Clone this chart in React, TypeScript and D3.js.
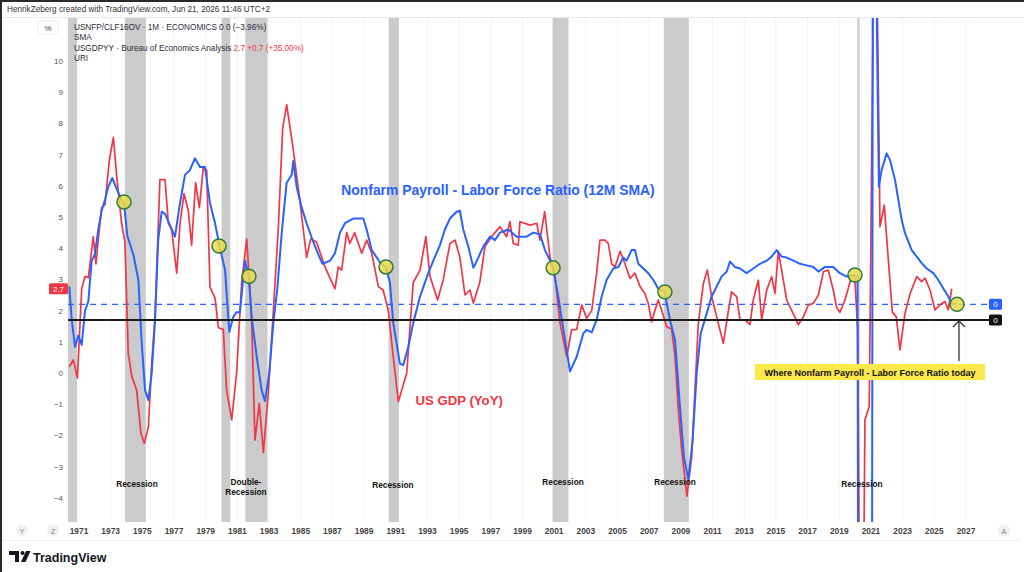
import React, { useEffect, useRef } from "react";
import * as d3 from "d3";

// US GDP YoY (%) as [year, value]
const gdpYoY: [number, number][] = [
  [1970.39, 0.2], [1970.64, 0.42], [1970.9, -0.16], [1971.17, 2.7], [1971.38, 3.1], [1971.59, 3.05],
  [1971.9, 4.37], [1972.07, 3.5], [1972.28, 4.58], [1972.43, 5.3], [1972.64, 5.4], [1972.91, 6.8],
  [1973.17, 7.55], [1973.38, 6.3], [1973.69, 4.8], [1973.9, 4.2], [1974.11, 0.63], [1974.33, -0.1],
  [1974.64, -0.55], [1974.91, -1.93], [1975.12, -2.25], [1975.38, -1.73], [1975.59, 0.3], [1975.8, 1.8],
  [1976.11, 6.2], [1976.43, 6.2], [1976.64, 4.8], [1976.85, 4.6], [1977.17, 3.2], [1977.38, 4.8],
  [1977.63, 5.75], [1977.9, 5.2], [1978.11, 4.1], [1978.36, 6.1], [1978.6, 5.3], [1978.85, 6.6],
  [1979.06, 6.5], [1979.27, 2.75], [1979.59, 2.4], [1979.8, 1.45], [1980.11, 1.4], [1980.32, -0.55],
  [1980.64, -1.5], [1980.95, 0.0], [1981.27, 2.9], [1981.59, 4.3], [1981.9, 1.7], [1982.11, -2.15],
  [1982.38, -0.97], [1982.64, -2.55], [1982.95, -0.65], [1983.27, 2.0], [1983.58, 4.6], [1983.86, 7.85],
  [1984.11, 8.6], [1984.53, 7.15], [1984.95, 5.5], [1985.37, 3.7], [1985.63, 4.3], [1986.0, 4.2],
  [1986.53, 3.4], [1986.85, 3.04], [1987.16, 2.7], [1987.37, 3.4], [1987.58, 3.3], [1987.9, 4.5],
  [1988.1, 4.15], [1988.4, 4.5], [1988.85, 3.84], [1989.16, 4.26], [1989.48, 3.84], [1989.9, 2.77],
  [1990.2, 2.66], [1990.53, 2.0], [1990.84, 0.52], [1991.16, -0.92], [1991.69, 0.0], [1992.1, 2.9],
  [1992.53, 3.3], [1992.9, 4.37], [1993.16, 3.1], [1993.64, 2.34], [1994.0, 3.0], [1994.42, 4.15],
  [1994.74, 4.26], [1995.05, 3.7], [1995.37, 2.5], [1995.68, 2.66], [1995.9, 2.24], [1996.3, 2.9],
  [1996.63, 4.05], [1997.05, 4.37], [1997.58, 4.69], [1998.0, 4.37], [1998.2, 4.85], [1998.42, 4.15],
  [1998.73, 4.1], [1998.84, 4.85], [1999.47, 4.74], [1999.9, 4.8], [2000.1, 4.26], [2000.4, 5.17],
  [2000.74, 3.7], [2001.05, 3.1], [2001.37, 1.6], [2001.79, 0.52], [2002.1, 1.38], [2002.42, 1.4],
  [2002.74, 2.18], [2003.05, 1.75], [2003.37, 2.0], [2003.68, 3.2], [2003.89, 4.26], [2004.2, 4.26],
  [2004.42, 4.15], [2004.63, 3.5], [2004.84, 3.4], [2005.16, 3.9], [2005.47, 3.5], [2005.79, 3.03],
  [2006.1, 3.2], [2006.42, 2.77], [2006.73, 2.55], [2006.94, 2.23], [2007.15, 1.64], [2007.36, 2.0],
  [2007.57, 2.34], [2007.79, 2.0], [2008.1, 1.48], [2008.42, 1.4], [2008.63, 0.52], [2008.84, -1.19],
  [2009.05, -2.47], [2009.38, -3.95], [2009.68, -2.7], [2009.89, -0.55], [2010.1, 1.6], [2010.42, 2.87],
  [2010.67, 3.3], [2010.94, 2.45], [2011.26, 1.8], [2011.68, 0.95], [2012.0, 2.0], [2012.2, 2.6],
  [2012.52, 2.45], [2012.73, 1.7], [2013.05, 1.7], [2013.36, 1.55], [2013.57, 2.34], [2013.89, 2.98],
  [2014.1, 1.7], [2014.42, 2.66], [2014.73, 3.09], [2014.94, 2.55], [2015.15, 3.9], [2015.36, 3.3],
  [2015.68, 2.34], [2016.0, 2.0], [2016.42, 1.55], [2016.73, 1.8], [2017.05, 2.18], [2017.36, 2.23],
  [2017.68, 2.5], [2018.0, 3.25], [2018.3, 3.3], [2018.62, 2.66], [2018.83, 2.1], [2019.04, 1.95],
  [2019.36, 2.34], [2019.78, 3.1], [2019.97, 3.15], [2020.16, 1.38], [2020.3, -9], [2020.5, -9],
  [2020.62, -1.5], [2020.89, -1.08], [2021.15, 12], [2021.4, 12], [2021.57, 4.69], [2021.84, 5.38],
  [2022.1, 3.6], [2022.35, 1.95], [2022.6, 1.8], [2022.83, 0.74], [2023.15, 1.91], [2023.47, 2.55],
  [2023.89, 3.09], [2024.2, 2.93], [2024.41, 3.04], [2024.73, 2.66], [2025.04, 2.02], [2025.36, 2.18],
  [2025.67, 2.29], [2025.88, 2.02], [2026.1, 2.7],
];

// Nonfarm payroll / labor force ratio, 12M SMA
const nfpRatioSma: [number, number][] = [
  [1970.39, 2.77], [1970.54, 1.7], [1970.75, 0.84], [1970.96, 1.2], [1971.17, 0.9], [1971.38, 2.0],
  [1971.59, 2.3], [1971.8, 3.6], [1972.0, 3.8], [1972.22, 4.6], [1972.43, 5.2], [1972.64, 5.55],
  [1972.85, 5.97], [1973.1, 6.25], [1973.38, 5.9], [1973.69, 5.55], [1973.84, 5.45], [1974.05, 4.4],
  [1974.43, 3.8], [1974.75, 2.98], [1974.96, 0.95], [1975.17, -0.55], [1975.38, -0.87], [1975.59, 0.0],
  [1975.8, 1.7], [1976.0, 4.26], [1976.22, 5.17], [1976.43, 5.1], [1976.74, 4.74], [1977.06, 4.37],
  [1977.38, 5.45], [1977.69, 6.35], [1978.0, 6.5], [1978.32, 6.88], [1978.64, 6.6], [1978.95, 6.6],
  [1979.27, 5.45], [1979.59, 4.8], [1979.88, 4.05], [1980.22, 3.3], [1980.49, 1.32], [1980.74, 1.8],
  [1980.95, 1.95], [1981.16, 1.95], [1981.48, 3.6], [1981.72, 3.1], [1981.9, 1.8], [1982.22, 0.52],
  [1982.53, -0.55], [1982.74, -0.9], [1983.01, 0.0], [1983.27, 1.6], [1983.52, 2.7], [1983.8, 4.5],
  [1984.11, 6.1], [1984.43, 6.35], [1984.53, 6.8], [1984.74, 5.97], [1985.06, 5.3], [1985.37, 4.8],
  [1985.79, 4.2], [1986.11, 3.8], [1986.37, 3.5], [1986.85, 3.6], [1987.16, 3.84], [1987.48, 4.5],
  [1987.79, 4.8], [1988.32, 4.95], [1988.95, 4.95], [1989.16, 4.6], [1989.48, 3.94], [1990.0, 3.55],
  [1990.38, 3.37], [1990.63, 2.9], [1990.84, 1.6], [1991.26, 0.3], [1991.47, 0.25], [1991.79, 0.84],
  [1992.1, 1.6], [1992.53, 2.45], [1993.05, 3.2], [1993.37, 3.6], [1993.79, 4.1], [1994.1, 4.6],
  [1994.42, 4.95], [1994.84, 5.17], [1995.05, 5.2], [1995.26, 4.6], [1995.58, 4.05], [1995.9, 3.37],
  [1996.21, 3.7], [1996.52, 4.05], [1996.95, 4.37], [1997.26, 4.26], [1997.58, 4.5], [1998.1, 4.6],
  [1998.63, 4.37], [1999.26, 4.37], [1999.68, 4.5], [2000.1, 4.45], [2000.42, 3.94], [2000.74, 3.6],
  [2000.93, 3.37], [2001.26, 2.45], [2001.58, 1.4], [2002.0, 0.05], [2002.42, 0.52], [2002.84, 1.27],
  [2003.05, 1.38], [2003.37, 1.3], [2003.68, 1.7], [2004.0, 2.45], [2004.31, 2.98], [2004.73, 3.35],
  [2005.05, 3.4], [2005.36, 3.7], [2005.57, 3.6], [2005.89, 3.94], [2006.1, 3.94], [2006.31, 3.5],
  [2006.63, 3.35], [2006.94, 3.2], [2007.26, 2.98], [2007.57, 2.7], [2007.97, 2.6], [2008.31, 1.7],
  [2008.63, 1.06], [2008.94, -1.08], [2009.19, -2.68], [2009.47, -3.42], [2009.74, -2.15], [2010.0, 0.0],
  [2010.25, 1.27], [2010.63, 1.91], [2010.94, 2.45], [2011.26, 2.77], [2011.57, 3.09], [2011.89, 3.25],
  [2012.1, 3.57], [2012.41, 3.4], [2012.73, 3.35], [2013.15, 3.2], [2013.57, 3.35], [2013.99, 3.5],
  [2014.42, 3.6], [2014.73, 3.73], [2015.05, 3.94], [2015.36, 3.73], [2015.68, 3.7], [2016.1, 3.6],
  [2016.52, 3.5], [2016.94, 3.45], [2017.36, 3.4], [2017.68, 3.25], [2018.1, 3.4], [2018.62, 3.4],
  [2019.04, 3.2], [2019.47, 3.09], [2019.88, 3.14], [2020.15, 3.1], [2020.22, -15], [2021.05, -15],
  [2021.12, 15], [2021.35, 12], [2021.5, 5.97], [2021.67, 6.5], [2021.99, 7.04], [2022.2, 6.83],
  [2022.52, 6.19], [2022.73, 5.54], [2022.94, 4.9], [2023.15, 4.48], [2023.36, 4.21], [2023.57, 3.94],
  [2023.89, 3.73], [2024.2, 3.52], [2024.52, 3.35], [2024.94, 3.2], [2025.25, 2.98], [2025.57, 2.71],
  [2025.88, 2.45], [2026.1, 2.23], [2026.35, 2.22],
];

// NBER recessions [start, end]
const recessions: [number, number][] = [
  [1969.92, 1970.88], [1973.9, 1975.22], [1980.0, 1980.55], [1981.5, 1982.9],
  [1990.55, 1991.2], [2000.9, 2001.9], [2007.92, 2009.5], [2020.12, 2020.3],
];

// year, lines, value where the label sits
const recessionLabels: { year: number; lines: string[]; level: number }[] = [
  { year: 1974.66, lines: ["Recession"], level: -3.55 },
  { year: 1981.54, lines: ["Double-", "Recession"], level: -3.5 },
  { year: 1990.82, lines: ["Recession"], level: -3.58 },
  { year: 2001.56, lines: ["Recession"], level: -3.48 },
  { year: 2008.63, lines: ["Recession"], level: -3.48 },
  { year: 2020.43, lines: ["Recession"], level: -3.55 },
];

// crossing points circled on the chart
const signalPoints: [number, number][] = [
  [1973.84, 5.48], [1979.84, 4.07], [1981.73, 3.1], [1990.38, 3.4],
  [2000.93, 3.37], [2007.99, 2.6], [2019.99, 3.14], [2026.43, 2.2],
];

const yTicks = [-4, -3, -2, -1, 0, 1, 2, 3, 4, 5, 6, 7, 8, 9, 10];
const xTicks = d3.range(1971, 2028, 2);
const todayLevel = 2.2;
const baseLevel = 1.7;
const lastGdp = 2.7;

const RED = "#f23645";
const BLUE = "#2962ff";
const FONT = "'Liberation Sans', Arial, sans-serif";

const App = () => {
  const ref = useRef<SVGSVGElement>(null);

  useEffect(() => {
    const svg = d3.select(ref.current);
    svg.selectAll("*").remove();

    const W = 1024, H = 572;
    const left = 68, right = 988, top = 18, bottom = 522;

    const x = d3.scaleLinear().domain([1971, 2027]).range([79, 966]);
    const y = d3.scaleLinear().domain([0, 10]).range([373, 61]);

    svg.attr("width", W).attr("height", H).style("font-family", FONT).style("white-space", "pre");
    svg.append("rect").attr("width", W).attr("height", H).attr("fill", "#fff");

    svg.append("clipPath").attr("id", "plot").append("rect")
      .attr("x", left).attr("y", top).attr("width", right - left).attr("height", bottom - top);

    // frame + separators
    svg.append("rect").attr("x", 0).attr("y", 0).attr("width", W).attr("height", 2).attr("fill", "#2a2a2a");
    svg.append("rect").attr("x", 0).attr("y", 0).attr("width", 2).attr("height", H).attr("fill", "#2a2a2a");
    svg.append("line").attr("x1", 2).attr("x2", W).attr("y1", 17.5).attr("y2", 17.5).attr("stroke", "#e6e8ee");
    svg.append("line").attr("x1", 2).attr("x2", 1020).attr("y1", 540.5).attr("y2", 540.5).attr("stroke", "#eef0f4");

    svg.append("text").attr("x", 7).attr("y", 12).attr("font-size", 8.2).attr("fill", "#333")
      .text("HenrikZeberg created with TradingView.com, Jun 21, 2026 11:46 UTC+2");

    const plot = svg.append("g").attr("clip-path", "url(#plot)");

    // vertical grid
    plot.selectAll(".grid").data(xTicks).join("line")
      .attr("x1", (d) => x(d)).attr("x2", (d) => x(d)).attr("y1", top).attr("y2", bottom)
      .attr("stroke", "#f0f2f6");

    // recession bands
    plot.selectAll(".rec").data(recessions).join("rect")
      .attr("x", (d) => x(d[0])).attr("width", (d) => x(d[1]) - x(d[0]))
      .attr("y", top).attr("height", bottom - top)
      .attr("fill", (d) => (d[1] - d[0] < 0.3 ? "#d4d4d4" : "#cbcbcb"));

    // horizontal reference lines
    plot.append("line").attr("x1", left).attr("x2", right).attr("y1", y(todayLevel)).attr("y2", y(todayLevel))
      .attr("stroke", BLUE).attr("stroke-width", 1.4).attr("stroke-dasharray", "6 5");
    svg.append("line").attr("x1", left).attr("x2", 990).attr("y1", y(baseLevel)).attr("y2", y(baseLevel))
      .attr("stroke", "#1a1a1a").attr("stroke-width", 2);

    const line = d3.line<[number, number]>().x((d) => x(d[0])).y((d) => y(d[1]));

    plot.append("path").datum(gdpYoY).attr("fill", "none").attr("stroke", RED)
      .attr("stroke-width", 1.7).attr("stroke-linejoin", "round").attr("d", line);
    plot.append("path").datum(nfpRatioSma).attr("fill", "none").attr("stroke", BLUE)
      .attr("stroke-width", 2).attr("stroke-linejoin", "round").attr("d", line);

    // circled signals
    plot.selectAll(".sig").data(signalPoints).join("circle")
      .attr("cx", (d) => x(d[0])).attr("cy", (d) => y(d[1])).attr("r", 7)
      .attr("fill", "#ead94a").attr("fill-opacity", 0.85)
      .attr("stroke", "#2f7d3a").attr("stroke-width", 1.5);

    // annotations
    svg.append("text").attr("x", x(1997.45)).attr("y", 195).attr("text-anchor", "middle")
      .attr("font-size", 13.9).attr("font-weight", 700).attr("fill", BLUE)
      .text("Nonfarm Payroll - Labor Force Ratio (12M SMA)");
    svg.append("text").attr("x", x(1995.0)).attr("y", 405).attr("text-anchor", "middle")
      .attr("font-size", 13.2).attr("font-weight", 700).attr("fill", RED)
      .text("US GDP (YoY)");

    recessionLabels.forEach((r) => {
      const t = svg.append("text").attr("text-anchor", "middle").attr("font-size", 8.3)
        .attr("font-weight", 700).attr("fill", "#111");
      r.lines.forEach((ln, i) => {
        t.append("tspan").attr("x", x(r.year)).attr("y", y(r.level) + 3 + i * 9.5).text(ln);
      });
    });

    // today callout
    const ax = x(2026.43);
    svg.append("rect").attr("x", 755).attr("y", 364).attr("width", 230).attr("height", 16).attr("fill", "#fbe84b");
    svg.append("text").attr("x", 870).attr("y", 375.5).attr("text-anchor", "middle").attr("font-size", 9)
      .attr("font-weight", 700).attr("fill", "#111").text("Where Nonfarm Payroll - Labor Force Ratio today");
    svg.append("line").attr("x1", ax + 2).attr("x2", ax + 2).attr("y1", 361).attr("y2", y(baseLevel) + 1)
      .attr("stroke", "#333").attr("stroke-width", 1.3);
    svg.append("path").attr("d", `M${ax - 4},${y(baseLevel) + 7} L${ax + 2},${y(baseLevel) + 1} L${ax + 8},${y(baseLevel) + 7}`)
      .attr("fill", "none").attr("stroke", "#333").attr("stroke-width", 1.3);

    // right-side value tags
    svg.append("rect").attr("x", 989).attr("y", y(todayLevel) - 5.5).attr("width", 13).attr("height", 11).attr("rx", 1.5).attr("fill", BLUE);
    svg.append("text").attr("x", 995.5).attr("y", y(todayLevel) + 3).attr("text-anchor", "middle")
      .attr("font-size", 8).attr("fill", "#fff").text("0");
    svg.append("rect").attr("x", 989).attr("y", y(baseLevel) - 5.5).attr("width", 13).attr("height", 11).attr("rx", 1.5).attr("fill", "#111");
    svg.append("text").attr("x", 995.5).attr("y", y(baseLevel) + 3).attr("text-anchor", "middle")
      .attr("font-size", 8).attr("fill", "#fff").text("0");

    // left axis
    svg.selectAll(".yt").data(yTicks).join("text")
      .attr("x", 63).attr("y", (d) => y(d) + 3).attr("text-anchor", "end")
      .attr("font-size", 8).attr("fill", "#555")
      .text((d) => (d < 0 ? `\u2212${Math.abs(d)}` : `${d}`));
    svg.append("rect").attr("x", 49).attr("y", y(lastGdp) - 5.5).attr("width", 19).attr("height", 11).attr("rx", 1.5).attr("fill", RED);
    svg.append("text").attr("x", 58.5).attr("y", y(lastGdp) + 3).attr("text-anchor", "middle")
      .attr("font-size", 8).attr("fill", "#fff").text(`${lastGdp}`);

    svg.append("rect").attr("x", 38).attr("y", 21).attr("width", 20).attr("height", 13).attr("rx", 3)
      .attr("fill", "#fff").attr("stroke", "#eceef2");
    svg.append("text").attr("x", 48).attr("y", 30.5).attr("text-anchor", "middle").attr("font-size", 8).attr("fill", "#444").text("%");

    // legend block
    const lg = svg.append("g").attr("font-size", 8.2).attr("fill", "#2a2e39");
    lg.append("text").attr("x", 74).attr("y", 29.5).text("USNFP/CLF16OV \u00b7 1M \u00b7 ECONOMICS  0  0 (\u22123.96%)");
    lg.append("text").attr("x", 74).attr("y", 40).text("SMA");
    const l3 = lg.append("text").attr("x", 74).attr("y", 50.5);
    l3.append("tspan").text("USGDPYY \u00b7 Bureau of Economics Analysis  ");
    l3.append("tspan").attr("fill", RED).text(`${lastGdp}  +0.7 (+35.00%)`);
    lg.append("text").attr("x", 74).attr("y", 61).text("URI");

    // bottom axis
    svg.selectAll(".xt").data(xTicks).join("text")
      .attr("x", (d) => x(d)).attr("y", 534).attr("text-anchor", "middle")
      .attr("font-size", 8.4).attr("font-weight", 700).attr("fill", "#444").text((d) => d);

    [["Y", 22], ["Z", 53], ["A", 1004]].forEach(([lab, cx]) => {
      svg.append("circle").attr("cx", cx as number).attr("cy", 530.5).attr("r", 6).attr("fill", "#f0f1f4");
      svg.append("text").attr("x", cx as number).attr("y", 533.5).attr("text-anchor", "middle")
        .attr("font-size", 7.5).attr("fill", "#888").text(lab as string);
    });

    // TradingView mark
    const logo = svg.append("g").attr("fill", "#131722");
    logo.append("path").attr("d", "M9,551 h10 v11 h-4 v-7 h-6 z");
    logo.append("circle").attr("cx", 22.5).attr("cy", 553).attr("r", 2);
    logo.append("path").attr("d", "M26,551 h4.5 l-5,11 h-4.5 z");
    svg.append("text").attr("x", 33).attr("y", 561.5).attr("font-size", 12.5).attr("font-weight", 700)
      .attr("fill", "#131722").text("TradingView");
  }, []);

  return (
    <div style={{ position: "absolute", left: 0, top: 0 }}>
      <svg ref={ref}></svg>
    </div>
  );
};

export default App;
